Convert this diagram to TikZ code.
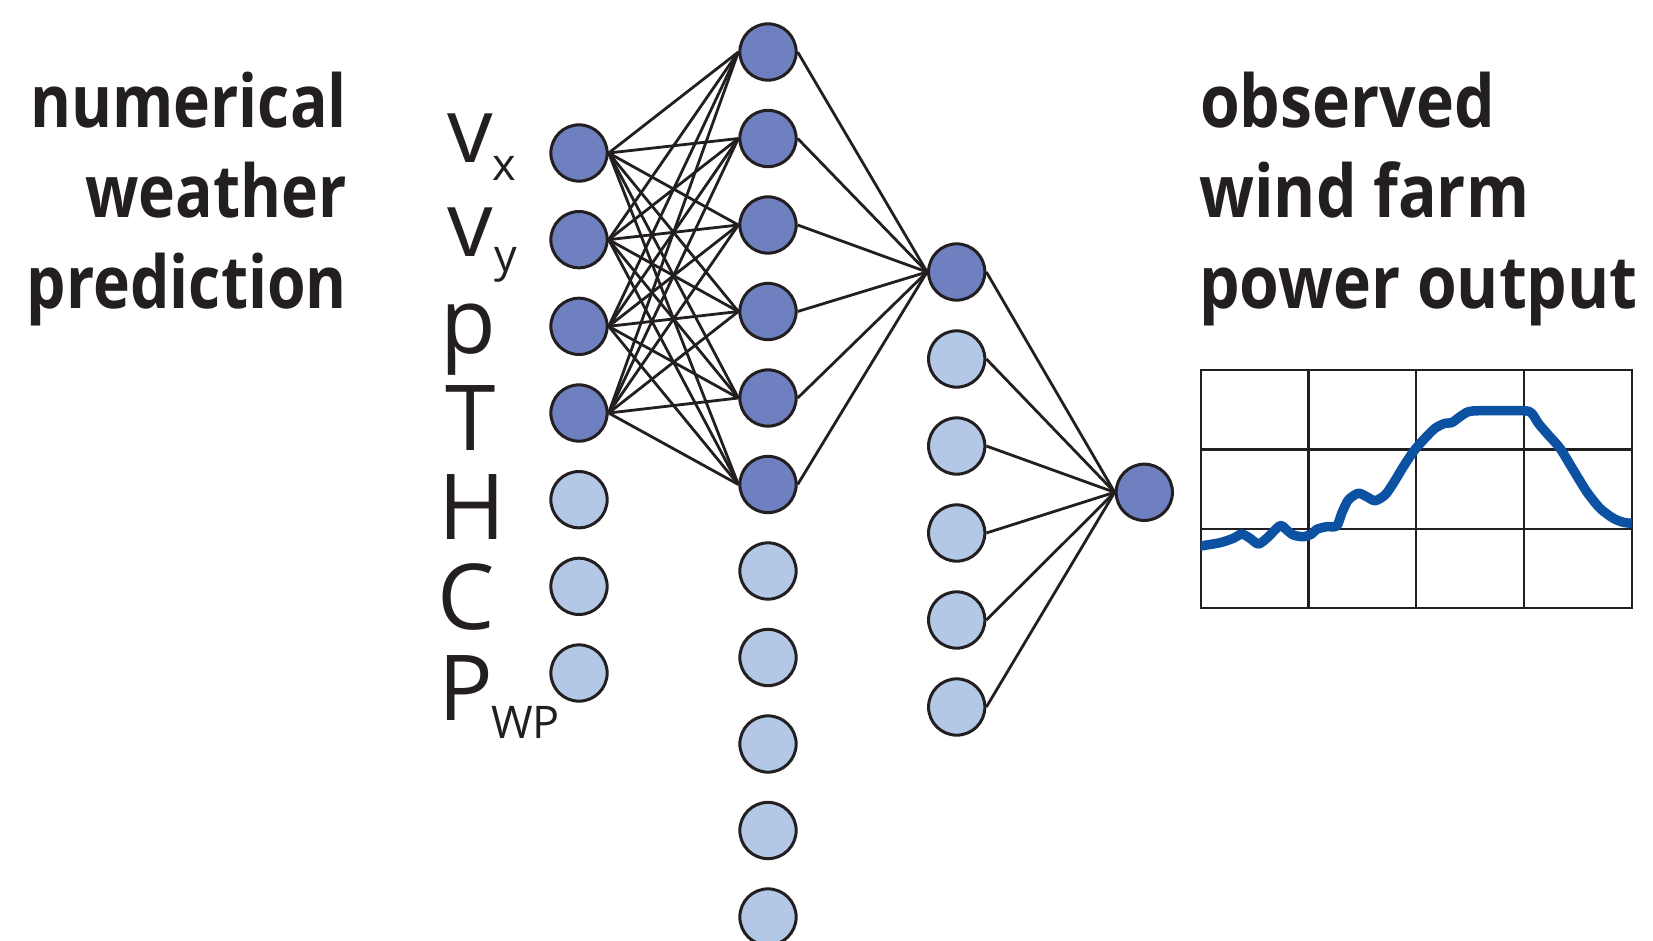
\documentclass[tikz,border=0pt]{standalone}
\usepackage{fontspec}
\newfontfamily\boldlab[FakeStretch=0.88]{Open Sans}
\newfontfamily\boldlabL[FakeStretch=0.855]{Open Sans}
\newfontfamily\symfont{Open Sans}
\definecolor{darkfill}{RGB}{111,128,192}
\definecolor{lightfill}{RGB}{179,199,230}
\definecolor{nodeline}{RGB}{35,31,32}
\definecolor{curveblue}{RGB}{12,81,162}
\pgfdeclarelayer{bg}
\pgfsetlayers{bg,main}
\begin{document}
\begin{tikzpicture}[x=1pt,y=-1pt,
  neuron/.style={circle,draw=nodeline,line width=3pt,minimum size=56.3pt,inner sep=0pt},
  active/.style={neuron,fill=darkfill},
  inactive/.style={neuron,fill=lightfill},
  conn/.style={draw=nodeline,line width=2.8pt},
  boldtxt/.style={font=\boldlab\bfseries\fontsize{73}{90}\selectfont,inner sep=0pt,text=nodeline},
  boldtxtL/.style={font=\boldlabL\bfseries\fontsize{73}{90}\selectfont,inner sep=0pt,text=nodeline},
  symb/.style={font=\symfont\fontsize{91}{100}\selectfont,inner sep=0pt,anchor=base west,text=nodeline},
  subs/.style={font=\symfont\fontsize{45}{50}\selectfont,inner sep=0pt,anchor=base west,text=nodeline},
  grid/.style={draw=nodeline,line width=2.3pt}]
\useasboundingbox (0,0) rectangle (1653,941);
% layer 1
\foreach \k in {1,...,4}{\node[active] (i\k) at (579,{153+86.67*(\k-1)}) {};}
\foreach \k in {5,...,7}{\node[inactive] (i\k) at (579,{153+86.67*(\k-1)}) {};}
% layer 2
\foreach \k in {1,...,6}{\node[active] (h\k) at (768,{52+86.5*(\k-1)}) {};}
\foreach \k in {7,...,11}{\node[inactive] (h\k) at (768,{52+86.5*(\k-1)}) {};}
% layer 3
\node[active] (g1) at (956.7,272) {};
\foreach \k in {2,...,6}{\node[inactive] (g\k) at (956.7,{272+87*(\k-1)}) {};}
% output
\node[active] (o) at (1144.3,492.3) {};
% connections
\begin{pgfonlayer}{bg}
\foreach \a in {1,...,4}{\foreach \b in {1,...,6}{\draw[conn] (i\a.east) -- (h\b.west);}}
\foreach \b in {1,...,6}{\draw[conn] (h\b.east) -- (g1.west);}
\foreach \c in {1,...,6}{\draw[conn] (g\c.east) -- (o.west);}
\end{pgfonlayer}
% left text
\node[boldtxtL,anchor=base east] (nw1) at (347,128) {numerical};
\node[boldtxtL,anchor=base east] (nw2) at (347,218) {weather};
\node[boldtxtL,anchor=base east] (nw3) at (347,308) {prediction};
% right text
\node[boldtxt,anchor=base west] (ob1) at (1200,128) {observed};
\node[boldtxt,anchor=base west] (ob2) at (1199,218) {wind farm};
\node[boldtxt,anchor=base west] (ob3) at (1199,308) {power output};
% symbols
\node[symb] (lvx) at (447,163) {v};
\node[subs] (lvxs) at (492,181) {x};
\node[symb] (lvy) at (447,257) {v};
\node[subs] (lvys) at (494,271) {y};
\node[symb] (lp) at (440,353) {p};
\node[symb] (lT) at (445,450) {T};
\node[symb] (lH) at (438,539) {H};
\node[symb] (lC) at (437,629) {C};
\node[symb] (lP) at (438,720) {P};
\node[subs] (lPs) at (491,738) {WP};
% chart
\coordinate (c1) at (1200.7,370);
\coordinate (c2) at (1631.7,608.3);
\draw[grid] (c1) rectangle (c2);
\foreach \x in {1308.4,1416.2,1524}{\draw[grid] (\x,370) -- (\x,608.3);}
\foreach \y in {449.4,528.8}{\draw[grid] (1200.7,\y) -- (1631.7,\y);}
\begin{scope}
\clip (c1) rectangle (c2);
\draw[curveblue,line width=9.5pt,line join=round] plot[smooth,tension=0.45] coordinates {
(1196,547.5) (1200.7,546) (1220,542.7) (1233.3,538.3) (1241.7,534) (1250,538.3) (1258.3,544)
(1266.7,538.3) (1280,525.7) (1286.7,530) (1293.3,535) (1303.3,536.7) (1311.7,534)
(1316.7,529.3) (1326.7,526.7) (1336.7,526) (1341.7,513.3) (1348.3,500) (1358.3,493.3)
(1366.7,496.7) (1375,500.7) (1385,495) (1393.3,483.3) (1403.3,466.7) (1413.3,451.7)
(1423.3,440) (1435,428.3) (1445,423.3) (1451.7,422.7) (1460,416.7) (1468.3,411.7)
(1480,410.7) (1523.3,410.7) (1531.7,413.3) (1538.3,423.3) (1548.3,435) (1560,448.3)
(1573.3,470) (1586.7,491.7) (1600,508.3) (1613.3,518.3) (1623.3,522.3) (1631.7,523.3) (1636,523.5)};
\end{scope}
\end{tikzpicture}
\end{document}
